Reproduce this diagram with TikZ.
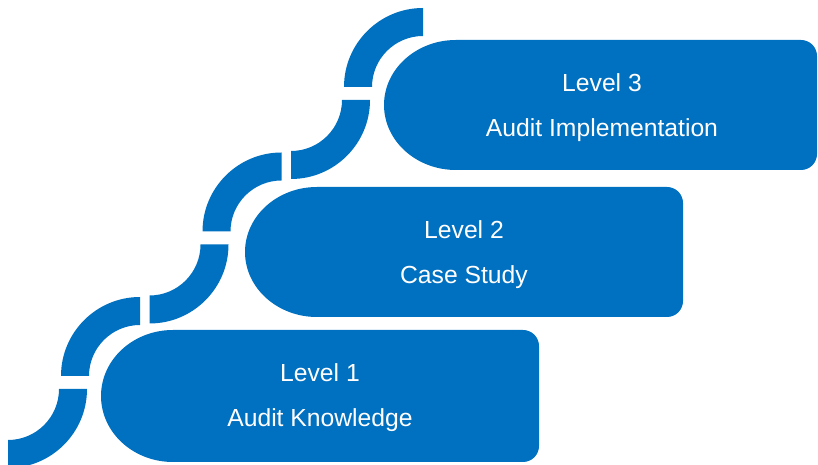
\documentclass[tikz,border=0pt]{standalone}
\usepackage{fontspec}
\setmainfont{Liberation Sans}
\usepackage{xcolor}
\usepackage{tikz}
\usetikzlibrary{positioning,calc}

\definecolor{stepblue}{RGB}{0,112,192}

\begin{document}
\begin{tikzpicture}[x=1pt, y=1pt,
    stepbox/.style={fill=stepblue},
    ring/.style={fill=stepblue},
    lvltext/.style={text=white, anchor=base, inner sep=0pt, font=\fontsize{24.7}{28}\selectfont}]

    \useasboundingbox (0,0) rectangle (818,465);

    % winding path on the left
    \foreach \i in {0,1,2} {
        \fill[ring] ({8+141.5*\i+79},{76+144.5*\i}) arc[start angle=0, end angle=-90, radius=79]
            -- ++(0,28) arc[start angle=-90, end angle=0, radius=51] -- cycle;
        \fill[ring] ({140+141.5*\i-79},{89+144.5*\i}) arc[start angle=180, end angle=90, radius=79]
            -- ++(0,-28) arc[start angle=90, end angle=180, radius=51] -- cycle;
    }

    % the three steps
    \foreach \xa/\xb/\ya/\yb in {101/539/3/135, 245/683/148/278, 384/817/295/425} {
        \fill[stepbox] (\xa+72,\ya) -- (\xb-16,\ya) arc[start angle=-90, end angle=0, radius=16]
            -- (\xb,\yb-16) arc[start angle=0, end angle=90, radius=16]
            -- (\xa+72,\yb) arc[start angle=90, end angle=270, x radius=72, y radius={(\yb-\ya)/2}] -- cycle;
    }

    \node[lvltext] (lvl1) at (320,83) {Level 1};
    \node[lvltext] (lvl1sub) at (320,38) {Audit Knowledge};
    \node[lvltext] (lvl2) at (464,226) {Level 2};
    \node[lvltext] (lvl2sub) at (464,181) {Case Study};
    \node[lvltext] (lvl3) at (602,373) {Level 3};
    \node[lvltext] (lvl3sub) at (602,328) {Audit Implementation};
\end{tikzpicture}
\end{document}
